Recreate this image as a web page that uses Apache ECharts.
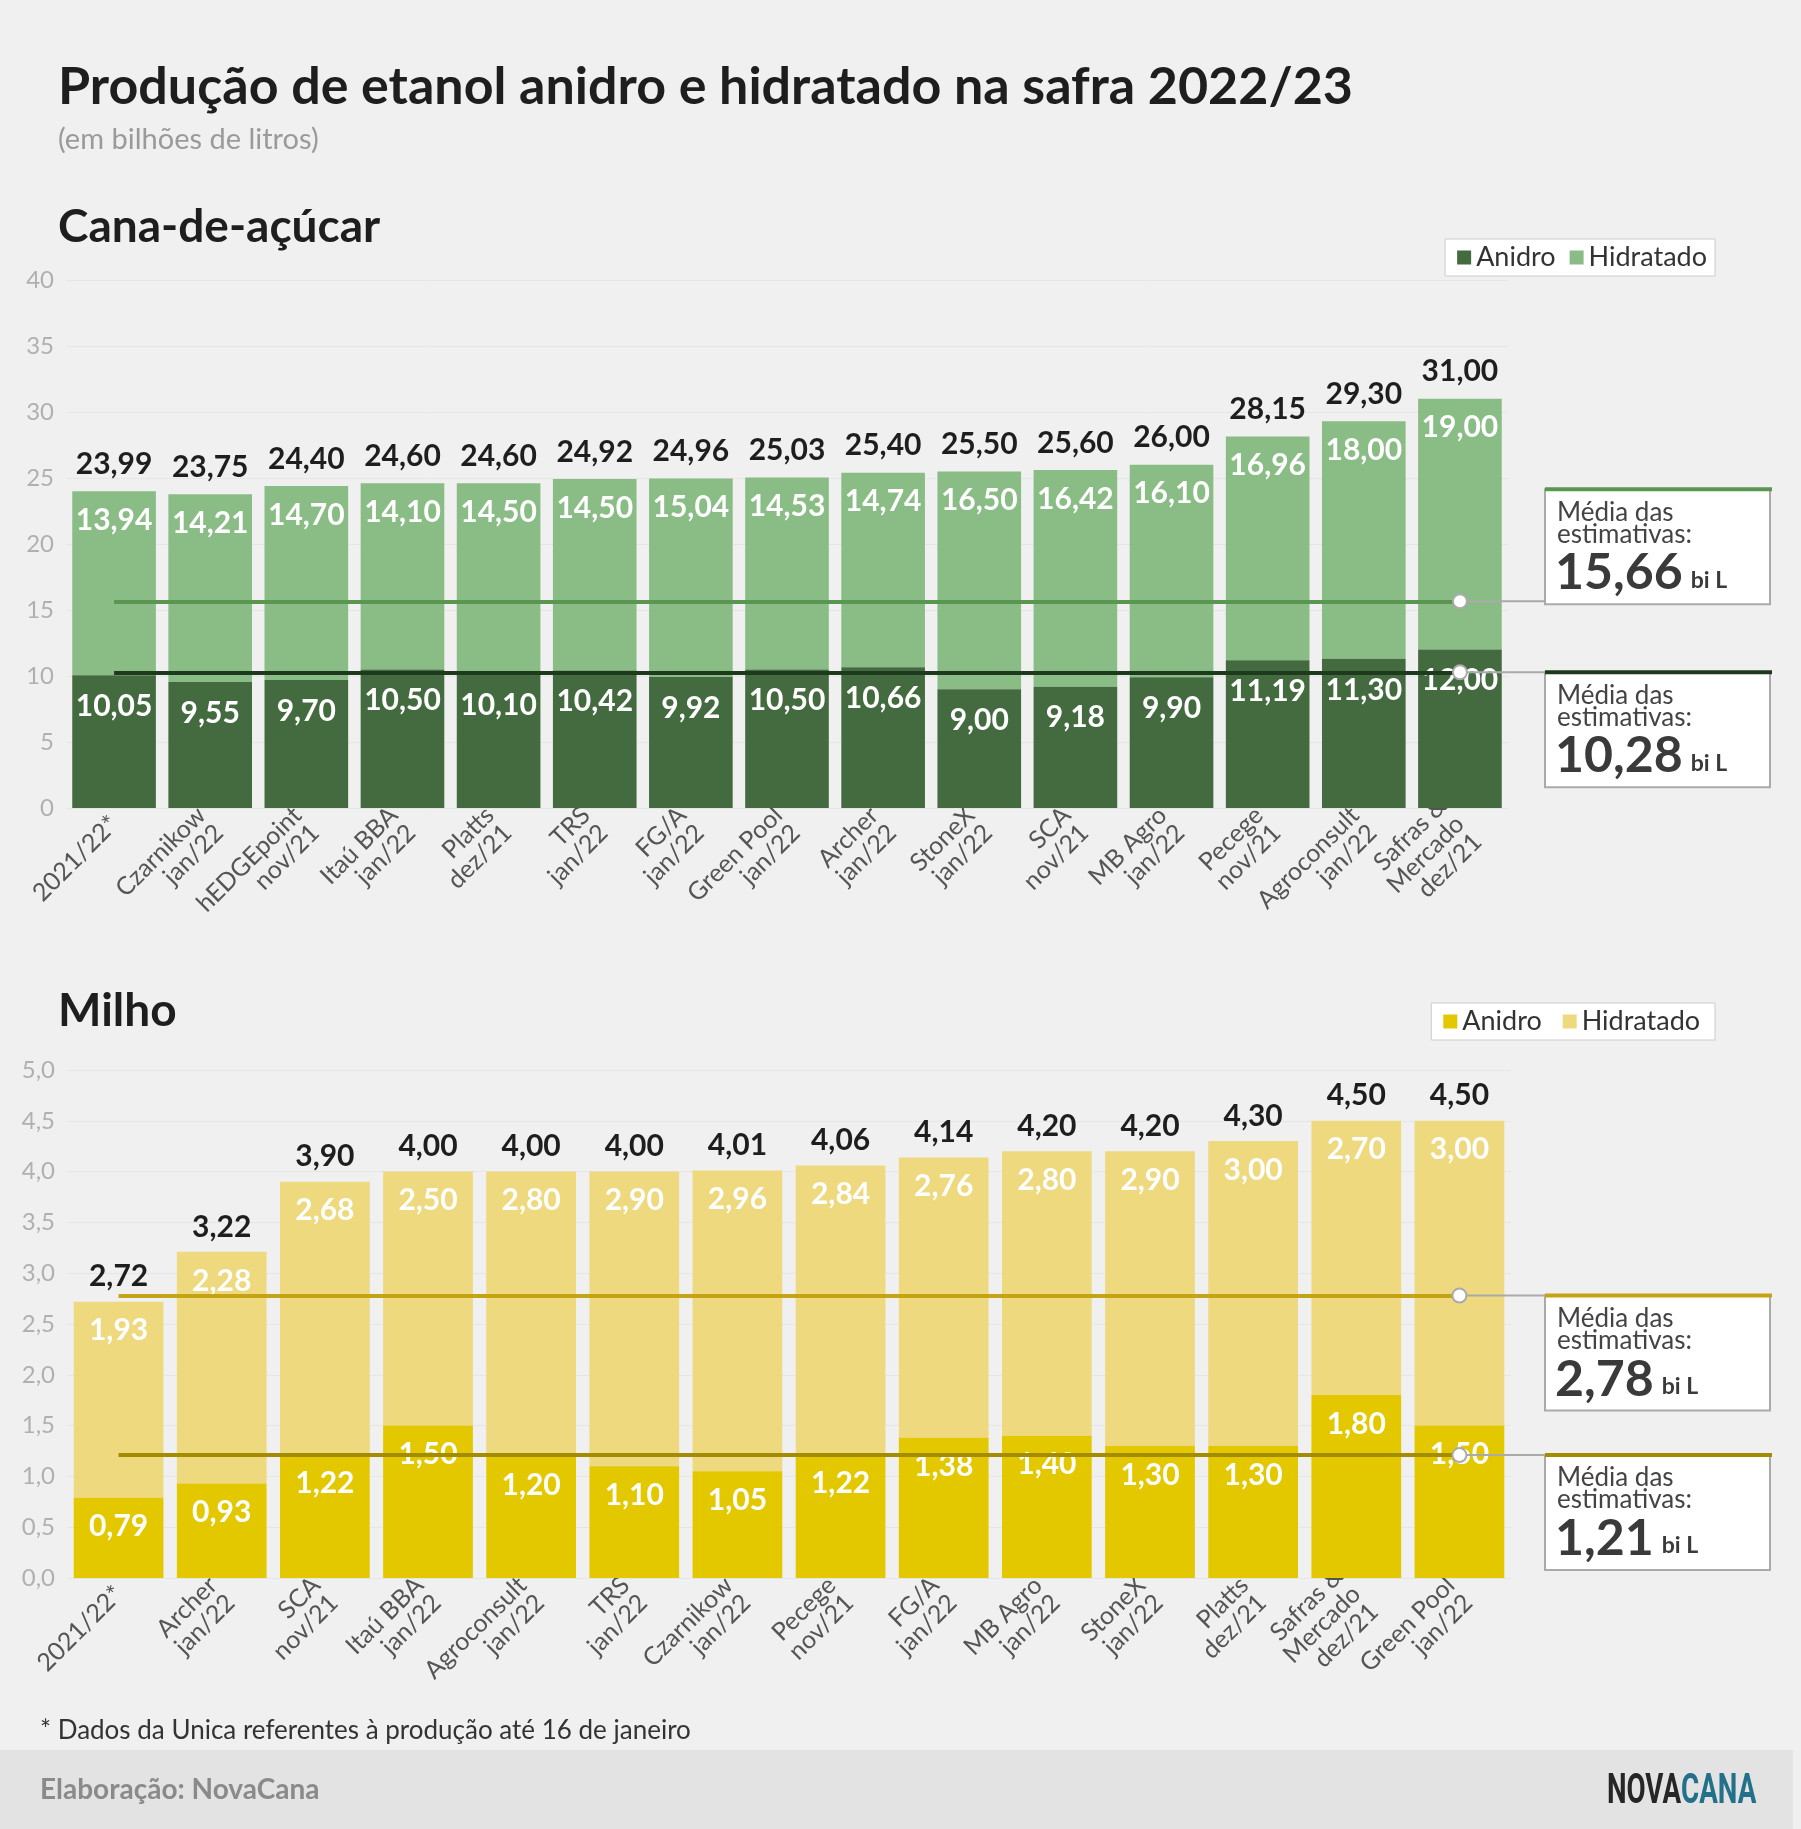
<!DOCTYPE html>
<html><head><meta charset="utf-8">
<script src="https://cdn.jsdelivr.net/npm/echarts@6/dist/echarts.min.js"></script>
<style>html,body{margin:0;padding:0;background:#f0f0f0}#c{width:1801px;height:1829px}</style>
</head><body><div id="c"></div>
<script>
const cats1 = ['2021/22*','Czarnikow\njan/22','hEDGEpoint\nnov/21','Itaú BBA\njan/22','Platts\ndez/21','TRS\njan/22','FG/A\njan/22','Green Pool\njan/22','Archer\njan/22','StoneX\njan/22','SCA\nnov/21','MB Agro\njan/22','Pecege\nnov/21','Agroconsult\njan/22','Safras &\nMercado\ndez/21'];
const anidro1 = [10.05,9.55,9.70,10.50,10.10,10.42,9.92,10.50,10.66,9.00,9.18,9.90,11.19,11.30,12.00];
const hidr1 = [13.94,14.21,14.70,14.10,14.50,14.50,15.04,14.53,14.74,16.50,16.42,16.10,16.96,18.00,19.00];
const total1 = [23.99,23.75,24.40,24.60,24.60,24.92,24.96,25.03,25.40,25.50,25.60,26.00,28.15,29.30,31.00];
const meanHid1 = 15.66, meanAn1 = 10.28;

const cats2 = ['2021/22*','Archer\njan/22','SCA\nnov/21','Itaú BBA\njan/22','Agroconsult\njan/22','TRS\njan/22','Czarnikow\njan/22','Pecege\nnov/21','FG/A\njan/22','MB Agro\njan/22','StoneX\njan/22','Platts\ndez/21','Safras &\nMercado\ndez/21','Green Pool\njan/22'];
const anidro2 = [0.79,0.93,1.22,1.50,1.20,1.10,1.05,1.22,1.38,1.40,1.30,1.30,1.80,1.50];
const hidr2 = [1.93,2.28,2.68,2.50,2.80,2.90,2.96,2.84,2.76,2.80,2.90,3.00,2.70,3.00];
const total2 = [2.72,3.22,3.90,4.00,4.00,4.00,4.01,4.06,4.14,4.20,4.20,4.30,4.50,4.50];
const meanHid2 = 2.78, meanAn2 = 1.21;

const fmt = v => v.toFixed(2).replace('.', ',');
const F = 'Lato';
const C = {an1:'#436b3f', hi1:'#8abc86', an2:'#e3c800', hi2:'#eed97f',
  l1a:'#5a9552', l1b:'#1d3a1d', l2a:'#c4a414', l2b:'#a38c00'};

const chart = echarts.init(document.getElementById('c'));
function inLabel(d){return {show:true, position:'insideTop', distance:d, color:'#fff', fontFamily:F, fontWeight:'bold', fontSize:30, formatter:p=>fmt(p.value)};}
function meanLine(idx, v, color){
  return {silent:true, symbol:['none','circle'], symbolSize:[0,0], label:{show:false},
    lineStyle:{color:color, width:4, type:'solid'},
    data:[[{coord:[0,v]},{coord:[idx,v]}]]};
}
function axisX(g, cats){
  return {gridIndex:g, type:'category', data:cats, axisLine:{show:false}, axisTick:{show:false},
    axisLabel:{rotate:45, interval:0, color:'#555', fontFamily:F, fontSize:25, lineHeight:25, margin:12}};
}
const option = {
  backgroundColor:'#f0f0f0',
  animation:false,
  grid:[{left:66, top:280, width:1442, height:528},{left:67, top:1070, width:1444, height:508}],
  xAxis:[axisX(0,cats1), axisX(1,cats2)],
  yAxis:[
    {gridIndex:0, min:0, max:40, interval:5, axisLine:{show:false}, axisTick:{show:false},
     splitLine:{lineStyle:{color:'#e6e6e6'}}, axisLabel:{color:'#b0b0b0', fontFamily:F, fontSize:24, margin:12}},
    {gridIndex:1, min:0, max:5, interval:0.5, axisLine:{show:false}, axisTick:{show:false},
     splitLine:{lineStyle:{color:'#e6e6e6'}}, axisLabel:{color:'#b0b0b0', fontFamily:F, fontSize:24, margin:12, formatter:v=>v.toFixed(1).replace('.',',')}}
  ],
  legend:[
    {data:['Anidro','Hidratado'], right:86, top:239, itemWidth:14, itemHeight:14, itemGap:14, padding:[5,8,5,12],
     backgroundColor:'#fff', borderColor:'#ccc', borderWidth:1, textStyle:{fontFamily:F, fontSize:27, color:'#333'}, icon:'rect'},
    {data:['Anidro ','Hidratado '], right:86, top:1003, itemWidth:14, itemHeight:14, itemGap:14, padding:[5,8,5,12],
     backgroundColor:'#fff', borderColor:'#ccc', borderWidth:1, textStyle:{fontFamily:F, fontSize:27, color:'#333'}, icon:'rect'}
  ],
  series:[
    {name:'Anidro', type:'bar', stack:'a', xAxisIndex:0, yAxisIndex:0, data:anidro1, barCategoryGap:'13%', itemStyle:{color:C.an1}, label:inLabel(16),
     markLine:meanLine(14, meanAn1, C.l1b), z:3},
    {name:'Hidratado', type:'bar', stack:'a', xAxisIndex:0, yAxisIndex:0, data:hidr1, itemStyle:{color:C.hi1}, label:inLabel(14),
     markLine:meanLine(14, meanHid1, C.l1a), z:2},
    {name:'tot1', type:'bar', stack:'a', xAxisIndex:0, yAxisIndex:0, data:total1.map(()=>0), itemStyle:{color:'transparent'},
     label:{show:true, position:'top', distance:12, color:'#1e1e1e', fontFamily:F, fontWeight:'bold', fontSize:30, formatter:p=>fmt(total1[p.dataIndex])}},
    {name:'Anidro ', type:'bar', stack:'b', xAxisIndex:1, yAxisIndex:1, data:anidro2, barCategoryGap:'13%', itemStyle:{color:C.an2}, label:inLabel(14),
     markLine:meanLine(13, meanAn2, C.l2b), z:3},
    {name:'Hidratado ', type:'bar', stack:'b', xAxisIndex:1, yAxisIndex:1, data:hidr2, itemStyle:{color:C.hi2}, label:inLabel(14),
     markLine:meanLine(13, meanHid2, C.l2a), z:2},
    {name:'tot2', type:'bar', stack:'b', xAxisIndex:1, yAxisIndex:1, data:total2.map(()=>0), itemStyle:{color:'transparent'},
     label:{show:true, position:'top', distance:10, color:'#1e1e1e', fontFamily:F, fontWeight:'bold', fontSize:30, formatter:p=>fmt(total2[p.dataIndex])}}
  ]
};
chart.setOption(option);

const g = [];
function txt(x,y,t,size,color,weight,extra){g.push(Object.assign({type:'text', x:x, y:y, style:{text:t, fontFamily:F, fontSize:size, fill:color, fontWeight:weight||'normal', textVerticalAlign:'middle'}}, extra||{}));}
txt(58,87,'Produção de etanol anidro e hidratado na safra 2022/23',52,'#1e1e1e','bold');
txt(58,140,'(em bilhões de litros)',29,'#9a9a9a');
txt(58,227,'Cana-de-açúcar',46,'#1e1e1e','bold');
txt(58,1011,'Milho',46,'#1e1e1e','bold');
txt(40,1731,'* Dados da Unica referentes à produção até 16 de janeiro',26,'#333');
g.push({type:'rect', shape:{x:0,y:1750,width:1793,height:79}, style:{fill:'#e3e3e3'}, z:-1});
txt(40,1790,'Elaboração: NovaCana',28,'#8a8a8a','bold');
g.push({type:'group', x:1607, y:1792, scaleX:0.66, children:[
  {type:'text', x:0, y:0, style:{rich:{a:{fontFamily:'Roboto', fontWeight:'bold', fontSize:42, fill:'#262626'}, b:{fontFamily:'Roboto', fontWeight:'bold', fontSize:42, fill:'#22708a'}}, text:'{a|NOVA}{b|CANA}', textVerticalAlign:'middle'}}]});

function box(gridIdx, lastIdx, v, color, topFromMean){
  const p = chart.convertToPixel({xAxisIndex:gridIdx, yAxisIndex:gridIdx}, [lastIdx, v]);
  const bx = 1545, bw = 225, bh = 115;
  const top = topFromMean ? p[1] : p[1] - bh + 3;
  g.push({type:'line', shape:{x1:p[0], y1:p[1], x2:bx, y2:p[1]}, style:{stroke:'#aaa', lineWidth:2}, z:5});
  g.push({type:'circle', shape:{cx:p[0], cy:p[1], r:7}, style:{fill:'#fff', stroke:'#aaa', lineWidth:2}, z:6});
  g.push({type:'rect', shape:{x:bx, y:top, width:bw, height:bh}, style:{fill:'#fff', stroke:'#aaa', lineWidth:2}, z:5});
  g.push({type:'line', shape:{x1:bx, y1:top, x2:bx+bw+2, y2:top}, style:{stroke:color, lineWidth:4}, z:6});
  const t = (x,y,s,size,w)=>g.push({type:'text', x:x, y:y, z:7, style:{text:s, fontFamily:F, fontSize:size, fontWeight:w, fill:'#444', textVerticalAlign:'middle'}});
  t(bx+12, top+23, 'Média das', 26, 'normal');
  t(bx+12, top+45, 'estimativas:', 26, 'normal');
  g.push({type:'text', x:bx+10, y:top+84, z:7, style:{rich:{n:{fontFamily:F, fontSize:50, fontWeight:'bold', fill:'#3a3a3a'}, u:{fontFamily:F, fontSize:23, fontWeight:'bold', fill:'#3a3a3a', padding:[14,0,0,8]}}, text:'{n|'+fmt(v)+'}{u|bi L}', textVerticalAlign:'middle'}});
}
box(0,14,meanHid1,C.l1a,false);
box(0,14,meanAn1,C.l1b,true);
box(1,13,meanHid2,C.l2a,true);
box(1,13,meanAn2,C.l2b,true);
chart.setOption({graphic:g});
</script></body></html>
